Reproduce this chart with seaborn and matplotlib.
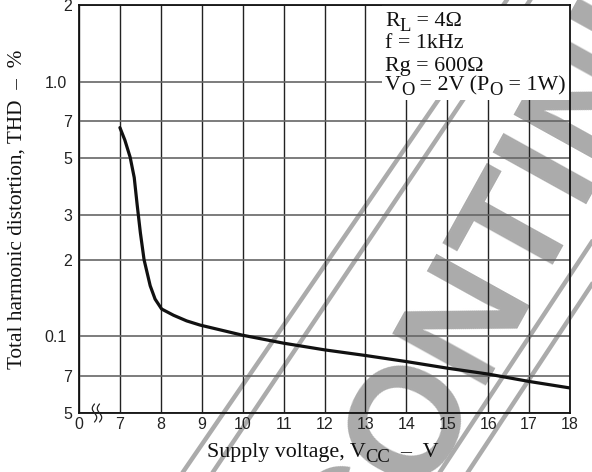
import numpy as np
import pandas as pd
import matplotlib
matplotlib.use("Agg")
import matplotlib.pyplot as plt
import matplotlib.transforms as mtransforms
from matplotlib.lines import Line2D
from matplotlib.patches import Rectangle
from matplotlib.ticker import NullLocator
import seaborn as sns

# THD versus supply voltage (R_L = 4 ohm, f = 1 kHz, Rg = 600 ohm, Vo = 2 V)
supply_v = [7.0, 7.12, 7.25, 7.35, 7.42, 7.5, 7.59, 7.74, 7.86, 8.02, 8.31,
            8.63, 8.96, 10.0, 11.0, 12.0, 13.0, 14.0, 15.0, 16.0, 17.0, 18.0]
thd_pct = [0.66, 0.59, 0.505, 0.42, 0.33, 0.255, 0.2, 0.158, 0.14, 0.128,
           0.121, 0.115, 0.1107, 0.101, 0.094, 0.0885, 0.0841, 0.0796, 0.075,
           0.0711, 0.0665, 0.0627]

x_ticks = [6, 7, 8, 9, 10, 11, 12, 13, 14, 15, 16, 17, 18]
x_tick_labels = ["0", "7", "8", "9", "10", "11", "12", "13", "14", "15", "16", "17", "18"]
y_ticks = [0.05, 0.07, 0.1, 0.2, 0.3, 0.5, 0.7, 1.0, 2.0]
y_tick_labels = ["5", "7", "0.1", "2", "3", "5", "7", "1.0", "2"]

df = pd.DataFrame({"vcc": supply_v, "thd": thd_pct})

sns.set_theme(style="white")
plt.rcParams["font.family"] = ["Liberation Sans", "DejaVu Sans"]

W, H = 592, 472
fig = plt.figure(figsize=(W / 100, H / 100), dpi=100)
fig.patch.set_facecolor("white")
ax = fig.add_axes([79 / W, 59 / H, 491 / W, 408 / H])
ax.set_facecolor("none")

# pixel coordinates, origin at top-left of the canvas
pix = mtransforms.Affine2D().scale(1 / W, -1 / H).translate(0, 1) + fig.transFigure

# "DISCONTINUED" stamp behind the chart
grey = "#ababab"
fig.text(525, 298, "DISCONTINUED", transform=pix, rotation=61,
         rotation_mode="anchor", ha="center", va="baseline",
         fontsize=112, fontweight="bold", color=grey,
         family="Liberation Sans", zorder=-2)


def stamp_line(x_bottom, slope):
    ys = np.array([-20.0, 500.0])
    xs = x_bottom + (472 - ys) * slope
    fig.add_artist(Line2D(xs, ys, transform=pix, color=grey, lw=3.2,
                          zorder=-2, solid_capstyle="butt"))


stamp_line(183, 0.686)
stamp_line(213, 0.672)
stamp_line(440, 0.66)
stamp_line(468, 0.66)

# curve
sns.lineplot(data=df, x="vcc", y="thd", ax=ax, color="#111111", lw=2.3,
             zorder=5, sort=False)

ax.set_yscale("log")
ax.set_xlim(6, 18)
ax.set_ylim(0.05, 2.0)
ax.set_xticks(x_ticks)
ax.set_xticklabels(x_tick_labels)
ax.set_yticks(y_ticks)
ax.set_yticklabels(y_tick_labels)
ax.yaxis.set_minor_locator(NullLocator())
ax.xaxis.set_minor_locator(NullLocator())
ax.tick_params(axis="x", length=0, pad=2.8, labelsize=11.5, colors="#222222")
ax.tick_params(axis="y", length=0, pad=5, labelsize=11.5, colors="#222222")
for lab in ax.get_yticklabels():
    if "." in lab.get_text():
        lab.set_transform(lab.get_transform() +
                          mtransforms.ScaledTranslation(-0.05, 0, fig.dpi_scale_trans))

ax.grid(axis="x", color="#222222", lw=1.0)
ax.grid(axis="y", color="#666666", lw=1.2)
for sp in ax.spines.values():
    sp.set_color("#111111")
    sp.set_linewidth(1.3)
    sp.set_zorder(6)

ax.set_xlabel("")
ax.set_ylabel("Total harmonic distortion, THD  \u2013  %", family="Liberation Serif",
              fontsize=15.3, color="#111111", labelpad=13)

# axis break mark on the bottom axis
t = np.linspace(-1, 1, 40)
for x0 in (94.5, 99.5):
    fig.add_artist(Line2D(x0 + 2.2 * np.sin(np.pi * t), 413 + 9 * t,
                          transform=pix, color="#222222", lw=0.9, zorder=10))

# conditions box
ax.add_patch(Rectangle((0.617, 0.7675), 0.383, 0.2325, transform=ax.transAxes,
                       facecolor="white", edgecolor="none", zorder=4))


def rich(x, y, pieces, size, transform):
    """Write a run of text pieces on one baseline; subscripts are lowered."""
    first = prev = None
    for s, sub in pieces:
        fs = size * 0.85 if sub else size
        if prev is None:
            tt = ax.text(x, y, s, transform=transform, fontsize=fs, ha="left",
                         va="baseline", family="Liberation Serif",
                         color="#111111", zorder=7, clip_on=False)
            first = tt
        else:
            tt = ax.annotate(s, xy=(1, 0), xycoords=(prev, first),
                             xytext=(0, -3.0 if sub else 0),
                             textcoords="offset points", ha="left", va="bottom",
                             fontsize=fs, family="Liberation Serif",
                             color="#111111", zorder=7, annotation_clip=False)
        prev = tt
    return first


lines = [
    [("R", False), ("L", True), (" = 4\u03a9", False)],
    [("f = 1kHz", False)],
    [("Rg = 600\u03a9", False)],
    [("V", False), ("O", True), (" = 2V (P", False), ("O", True), (" = 1W)", False)],
]
baselines = [0.948, 0.8946, 0.838, 0.7917]
for pcs, yb in zip(lines, baselines):
    rich(0.623, yb, pcs, 15.8, ax.transAxes)

# x-axis title
rich((207 - 79) / 491, (413 - 457) / 408,
     [("Supply voltage, V", False), ("CC", True), ("  \u2013  V", False)],
     15.8, ax.transAxes)

fig.savefig("out.png", dpi=100, facecolor="white")
